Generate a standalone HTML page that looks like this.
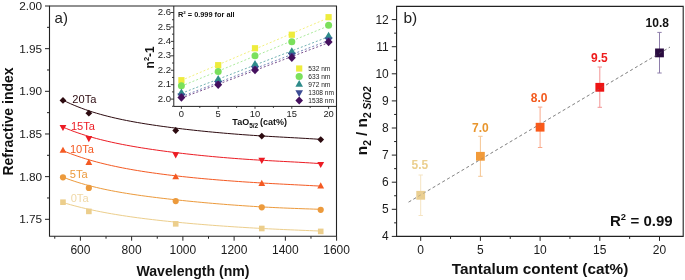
<!DOCTYPE html><html><head><meta charset="utf-8"><style>html,body{margin:0;padding:0;background:#fff;}svg{display:block;will-change:transform;}text{font-family:"Liberation Sans", sans-serif;}</style></head><body>
<svg width="685" height="280" viewBox="0 0 685 280">
<rect width="685" height="280" fill="#fff"/>
<path d="M62.98,100.15 L66.71,101.97 L70.45,103.69 L74.18,105.30 L77.92,106.82 L81.66,108.25 L85.39,109.61 L89.13,110.88 L92.86,112.09 L96.60,113.23 L100.33,114.30 L104.07,115.32 L107.80,116.29 L111.54,117.21 L115.27,118.08 L119.01,118.92 L122.74,119.71 L126.48,120.47 L130.21,121.19 L133.95,121.88 L137.68,122.55 L141.42,123.18 L145.16,123.80 L148.89,124.39 L152.63,124.96 L156.36,125.51 L160.10,126.05 L163.83,126.56 L167.57,127.06 L171.30,127.55 L175.04,128.02 L178.77,128.48 L182.51,128.93 L186.24,129.36 L189.98,129.79 L193.71,130.20 L197.45,130.60 L201.19,130.99 L204.92,131.37 L208.66,131.74 L212.39,132.09 L216.13,132.44 L219.86,132.78 L223.60,133.11 L227.33,133.43 L231.07,133.74 L234.80,134.04 L238.54,134.33 L242.27,134.61 L246.01,134.89 L249.74,135.15 L253.48,135.40 L257.22,135.65 L260.95,135.89 L264.69,136.12 L268.42,136.35 L272.16,136.56 L275.89,136.78 L279.63,136.99 L283.36,137.19 L287.10,137.40 L290.83,137.60 L294.57,137.80 L298.30,138.01 L302.04,138.22 L305.77,138.43 L309.51,138.66 L313.24,138.89 L316.98,139.14 L320.72,139.40" fill="none" stroke="#2d0b10" stroke-width="1"/>
<path d="M62.98,127.12 L66.71,128.68 L70.45,130.16 L74.18,131.57 L77.92,132.89 L81.66,134.15 L85.39,135.34 L89.13,136.47 L92.86,137.54 L96.60,138.56 L100.33,139.53 L104.07,140.45 L107.80,141.34 L111.54,142.18 L115.27,142.99 L119.01,143.76 L122.74,144.50 L126.48,145.21 L130.21,145.89 L133.95,146.55 L137.68,147.19 L141.42,147.80 L145.16,148.39 L148.89,148.97 L152.63,149.52 L156.36,150.06 L160.10,150.58 L163.83,151.09 L167.57,151.59 L171.30,152.07 L175.04,152.53 L178.77,152.99 L182.51,153.43 L186.24,153.86 L189.98,154.28 L193.71,154.68 L197.45,155.08 L201.19,155.46 L204.92,155.84 L208.66,156.20 L212.39,156.55 L216.13,156.89 L219.86,157.22 L223.60,157.54 L227.33,157.85 L231.07,158.15 L234.80,158.44 L238.54,158.72 L242.27,158.99 L246.01,159.25 L249.74,159.50 L253.48,159.74 L257.22,159.97 L260.95,160.20 L264.69,160.42 L268.42,160.63 L272.16,160.84 L275.89,161.04 L279.63,161.24 L283.36,161.44 L287.10,161.64 L290.83,161.83 L294.57,162.03 L298.30,162.23 L302.04,162.44 L305.77,162.66 L309.51,162.89 L313.24,163.13 L316.98,163.38 L320.72,163.65" fill="none" stroke="#ec1c24" stroke-width="1"/>
<path d="M62.98,150.67 L66.71,152.18 L70.45,153.63 L74.18,155.00 L77.92,156.30 L81.66,157.54 L85.39,158.73 L89.13,159.85 L92.86,160.92 L96.60,161.94 L100.33,162.92 L104.07,163.85 L107.80,164.73 L111.54,165.58 L115.27,166.39 L119.01,167.17 L122.74,167.91 L126.48,168.62 L130.21,169.30 L133.95,169.96 L137.68,170.59 L141.42,171.19 L145.16,171.77 L148.89,172.33 L152.63,172.87 L156.36,173.39 L160.10,173.90 L163.83,174.38 L167.57,174.85 L171.30,175.30 L175.04,175.74 L178.77,176.17 L182.51,176.58 L186.24,176.98 L189.98,177.37 L193.71,177.74 L197.45,178.11 L201.19,178.46 L204.92,178.81 L208.66,179.14 L212.39,179.46 L216.13,179.78 L219.86,180.09 L223.60,180.38 L227.33,180.67 L231.07,180.95 L234.80,181.23 L238.54,181.49 L242.27,181.75 L246.01,182.00 L249.74,182.24 L253.48,182.48 L257.22,182.71 L260.95,182.94 L264.69,183.16 L268.42,183.37 L272.16,183.58 L275.89,183.78 L279.63,183.98 L283.36,184.18 L287.10,184.37 L290.83,184.57 L294.57,184.76 L298.30,184.95 L302.04,185.14 L305.77,185.33 L309.51,185.52 L313.24,185.72 L316.98,185.92 L320.72,186.12" fill="none" stroke="#f45a23" stroke-width="1"/>
<path d="M62.98,177.15 L66.71,178.58 L70.45,179.93 L74.18,181.20 L77.92,182.40 L81.66,183.54 L85.39,184.61 L89.13,185.62 L92.86,186.58 L96.60,187.49 L100.33,188.36 L104.07,189.18 L107.80,189.96 L111.54,190.70 L115.27,191.41 L119.01,192.09 L122.74,192.73 L126.48,193.35 L130.21,193.95 L133.95,194.52 L137.68,195.07 L141.42,195.60 L145.16,196.12 L148.89,196.61 L152.63,197.10 L156.36,197.56 L160.10,198.02 L163.83,198.46 L167.57,198.89 L171.30,199.31 L175.04,199.72 L178.77,200.12 L182.51,200.51 L186.24,200.90 L189.98,201.27 L193.71,201.64 L197.45,201.99 L201.19,202.34 L204.92,202.69 L208.66,203.02 L212.39,203.35 L216.13,203.67 L219.86,203.98 L223.60,204.28 L227.33,204.58 L231.07,204.86 L234.80,205.14 L238.54,205.41 L242.27,205.67 L246.01,205.93 L249.74,206.17 L253.48,206.40 L257.22,206.63 L260.95,206.85 L264.69,207.06 L268.42,207.26 L272.16,207.45 L275.89,207.63 L279.63,207.80 L283.36,207.97 L287.10,208.13 L290.83,208.28 L294.57,208.42 L298.30,208.56 L302.04,208.70 L305.77,208.83 L309.51,208.95 L313.24,209.08 L316.98,209.20 L320.72,209.32" fill="none" stroke="#ec9a3c" stroke-width="1"/>
<path d="M62.98,202.50 L66.71,203.62 L70.45,204.69 L74.18,205.71 L77.92,206.68 L81.66,207.61 L85.39,208.51 L89.13,209.36 L92.86,210.17 L96.60,210.95 L100.33,211.70 L104.07,212.42 L107.80,213.11 L111.54,213.77 L115.27,214.40 L119.01,215.01 L122.74,215.60 L126.48,216.17 L130.21,216.71 L133.95,217.24 L137.68,217.75 L141.42,218.24 L145.16,218.72 L148.89,219.18 L152.63,219.62 L156.36,220.06 L160.10,220.48 L163.83,220.88 L167.57,221.28 L171.30,221.67 L175.04,222.04 L178.77,222.40 L182.51,222.76 L186.24,223.10 L189.98,223.44 L193.71,223.77 L197.45,224.09 L201.19,224.40 L204.92,224.70 L208.66,225.00 L212.39,225.29 L216.13,225.57 L219.86,225.84 L223.60,226.11 L227.33,226.37 L231.07,226.62 L234.80,226.87 L238.54,227.11 L242.27,227.34 L246.01,227.57 L249.74,227.79 L253.48,228.00 L257.22,228.21 L260.95,228.42 L264.69,228.61 L268.42,228.80 L272.16,228.99 L275.89,229.17 L279.63,229.35 L283.36,229.52 L287.10,229.69 L290.83,229.85 L294.57,230.01 L298.30,230.17 L302.04,230.32 L305.77,230.47 L309.51,230.62 L313.24,230.77 L316.98,230.92 L320.72,231.07" fill="none" stroke="#ecce8c" stroke-width="1"/>
<path d="M62.98,97.00L66.38,100.40L62.98,103.80L59.58,100.40Z" fill="#2d0b10"/>
<path d="M88.85,109.80L92.25,113.20L88.85,116.60L85.45,113.20Z" fill="#2d0b10"/>
<path d="M175.71,127.10L179.11,130.50L175.71,133.90L172.31,130.50Z" fill="#2d0b10"/>
<path d="M261.79,132.70L265.19,136.10L261.79,139.50L258.39,136.10Z" fill="#2d0b10"/>
<path d="M320.72,136.20L324.12,139.60L320.72,143.00L317.32,139.60Z" fill="#2d0b10"/>
<path d="M59.58,125.00L66.38,125.00L62.98,131.10Z" fill="#ec1c24"/>
<path d="M85.45,136.10L92.25,136.10L88.85,142.20Z" fill="#ec1c24"/>
<path d="M172.31,152.30L179.11,152.30L175.71,158.40Z" fill="#ec1c24"/>
<path d="M258.39,157.85L265.19,157.85L261.79,163.95Z" fill="#ec1c24"/>
<path d="M317.32,161.93L324.12,161.93L320.72,168.03Z" fill="#ec1c24"/>
<path d="M62.98,146.70L66.38,152.80L59.58,152.80Z" fill="#f45a23"/>
<path d="M88.85,158.85L92.25,164.95L85.45,164.95Z" fill="#f45a23"/>
<path d="M175.71,173.20L179.11,179.30L172.31,179.30Z" fill="#f45a23"/>
<path d="M261.79,179.85L265.19,185.95L258.39,185.95Z" fill="#f45a23"/>
<path d="M320.72,182.30L324.12,188.40L317.32,188.40Z" fill="#f45a23"/>
<circle cx="62.98" cy="177.30" r="3.10" fill="#ec9a3c"/>
<circle cx="88.85" cy="187.90" r="3.10" fill="#ec9a3c"/>
<circle cx="175.71" cy="201.10" r="3.10" fill="#ec9a3c"/>
<circle cx="261.79" cy="207.30" r="3.10" fill="#ec9a3c"/>
<circle cx="320.72" cy="209.80" r="3.10" fill="#ec9a3c"/>
<rect x="60.18" y="199.40" width="5.60" height="5.60" fill="#ecce8c"/>
<rect x="86.05" y="208.60" width="5.60" height="5.60" fill="#ecce8c"/>
<rect x="172.91" y="221.05" width="5.60" height="5.60" fill="#ecce8c"/>
<rect x="258.99" y="225.70" width="5.60" height="5.60" fill="#ecce8c"/>
<rect x="317.92" y="228.60" width="5.60" height="5.60" fill="#ecce8c"/>
<text x="72.3" y="102.9" font-size="11.1" fill="#2d0b10">20Ta</text>
<text x="70.9" y="130.2" font-size="11.1" fill="#ec1c24">15Ta</text>
<text x="69.9" y="152.9" font-size="11.1" fill="#f45a23">10Ta</text>
<text x="69.8" y="177.6" font-size="11.1" fill="#ec9a3c">5Ta</text>
<text x="70.7" y="202.1" font-size="11.1" fill="#f0d8a6">0Ta</text>
<path d="M45.0,6.00H49.5" stroke="#222" stroke-width="1"/>
<text x="42.1" y="9.90" font-size="11.8" text-anchor="end" fill="#1a1a1a">2.00</text>
<path d="M45.0,48.66H49.5" stroke="#222" stroke-width="1"/>
<text x="42.1" y="52.56" font-size="11.8" text-anchor="end" fill="#1a1a1a">1.95</text>
<path d="M45.0,91.32H49.5" stroke="#222" stroke-width="1"/>
<text x="42.1" y="95.22" font-size="11.8" text-anchor="end" fill="#1a1a1a">1.90</text>
<path d="M45.0,133.98H49.5" stroke="#222" stroke-width="1"/>
<text x="42.1" y="137.88" font-size="11.8" text-anchor="end" fill="#1a1a1a">1.85</text>
<path d="M45.0,176.64H49.5" stroke="#222" stroke-width="1"/>
<text x="42.1" y="180.54" font-size="11.8" text-anchor="end" fill="#1a1a1a">1.80</text>
<path d="M45.0,219.30H49.5" stroke="#222" stroke-width="1"/>
<text x="42.1" y="223.20" font-size="11.8" text-anchor="end" fill="#1a1a1a">1.75</text>
<path d="M47.0,27.33H49.5" stroke="#222" stroke-width="1"/>
<path d="M47.0,69.99H49.5" stroke="#222" stroke-width="1"/>
<path d="M47.0,112.65H49.5" stroke="#222" stroke-width="1"/>
<path d="M47.0,155.31H49.5" stroke="#222" stroke-width="1"/>
<path d="M47.0,197.97H49.5" stroke="#222" stroke-width="1"/>
<path d="M80.40,236.3V240.70000000000002" stroke="#222" stroke-width="1"/>
<text x="80.40" y="254.0" font-size="12" text-anchor="middle" fill="#1a1a1a">600</text>
<path d="M131.64,236.3V240.70000000000002" stroke="#222" stroke-width="1"/>
<text x="131.64" y="254.0" font-size="12" text-anchor="middle" fill="#1a1a1a">800</text>
<path d="M182.88,236.3V240.70000000000002" stroke="#222" stroke-width="1"/>
<text x="182.88" y="254.0" font-size="12" text-anchor="middle" fill="#1a1a1a">1000</text>
<path d="M234.12,236.3V240.70000000000002" stroke="#222" stroke-width="1"/>
<text x="234.12" y="254.0" font-size="12" text-anchor="middle" fill="#1a1a1a">1200</text>
<path d="M285.36,236.3V240.70000000000002" stroke="#222" stroke-width="1"/>
<text x="285.36" y="254.0" font-size="12" text-anchor="middle" fill="#1a1a1a">1400</text>
<path d="M336.60,236.3V240.70000000000002" stroke="#222" stroke-width="1"/>
<text x="336.60" y="254.0" font-size="12" text-anchor="middle" fill="#1a1a1a">1600</text>
<path d="M54.78,236.3V238.70000000000002" stroke="#222" stroke-width="1"/>
<path d="M106.02,236.3V238.70000000000002" stroke="#222" stroke-width="1"/>
<path d="M157.26,236.3V238.70000000000002" stroke="#222" stroke-width="1"/>
<path d="M208.50,236.3V238.70000000000002" stroke="#222" stroke-width="1"/>
<path d="M259.74,236.3V238.70000000000002" stroke="#222" stroke-width="1"/>
<path d="M310.98,236.3V238.70000000000002" stroke="#222" stroke-width="1"/>
<text x="193" y="275.6" font-size="14.1" font-weight="bold" text-anchor="middle" fill="#111">Wavelength (nm)</text>
<text transform="translate(12.9,121.5) rotate(-90)" font-size="14" font-weight="bold" text-anchor="middle" fill="#111">Refractive index</text>
<text x="54.6" y="22.7" font-size="15" fill="#222">a)</text>
<rect x="173.8" y="6.0" width="162.7" height="100.4" fill="#fff"/>
<path d="M181.40,80.40L328.60,17.81" stroke="#f0ee70" stroke-width="0.9" stroke-dasharray="2,2" fill="none"/>
<path d="M181.40,86.14L328.60,25.88" stroke="#a0e890" stroke-width="0.9" stroke-dasharray="2,2" fill="none"/>
<path d="M181.40,93.31L328.60,36.73" stroke="#60a8a8" stroke-width="0.9" stroke-dasharray="2,2" fill="none"/>
<path d="M181.40,96.55L328.60,40.46" stroke="#6a78b0" stroke-width="0.9" stroke-dasharray="2,2" fill="none"/>
<path d="M181.40,98.03L328.60,42.73" stroke="#6a3a80" stroke-width="0.9" stroke-dasharray="2,2" fill="none"/>
<rect x="178.30" y="77.10" width="6.20" height="6.20" fill="#eeec3c"/>
<rect x="215.10" y="62.07" width="6.20" height="6.20" fill="#eeec3c"/>
<rect x="251.90" y="45.15" width="6.20" height="6.20" fill="#eeec3c"/>
<rect x="288.70" y="31.62" width="6.20" height="6.20" fill="#eeec3c"/>
<rect x="325.50" y="14.10" width="6.20" height="6.20" fill="#eeec3c"/>
<circle cx="181.40" cy="85.69" r="3.50" fill="#7be05c"/>
<circle cx="218.20" cy="71.60" r="3.50" fill="#7be05c"/>
<circle cx="255.00" cy="55.75" r="3.50" fill="#7be05c"/>
<circle cx="291.80" cy="41.66" r="3.50" fill="#7be05c"/>
<circle cx="328.60" cy="25.34" r="3.50" fill="#7be05c"/>
<path d="M181.40,88.54L185.40,95.34L177.40,95.34Z" fill="#2e8b8a"/>
<path d="M218.20,75.01L222.20,81.81L214.20,81.81Z" fill="#2e8b8a"/>
<path d="M255.00,60.00L259.00,66.80L251.00,66.80Z" fill="#2e8b8a"/>
<path d="M291.80,47.18L295.80,53.98L287.80,53.98Z" fill="#2e8b8a"/>
<path d="M328.60,31.72L332.60,38.52L324.60,38.52Z" fill="#2e8b8a"/>
<path d="M177.40,93.54L185.40,93.54L181.40,100.34Z" fill="#3c4d95"/>
<path d="M214.20,80.98L222.20,80.98L218.20,87.78Z" fill="#3c4d95"/>
<path d="M251.00,66.31L259.00,66.31L255.00,73.11Z" fill="#3c4d95"/>
<path d="M287.80,52.87L295.80,52.87L291.80,59.67Z" fill="#3c4d95"/>
<path d="M324.60,37.49L332.60,37.49L328.60,44.29Z" fill="#3c4d95"/>
<path d="M181.40,93.21L185.40,97.51L181.40,101.81L177.40,97.51Z" fill="#45105e"/>
<path d="M218.20,80.44L222.20,84.74L218.20,89.04L214.20,84.74Z" fill="#45105e"/>
<path d="M255.00,65.76L259.00,70.06L255.00,74.36L251.00,70.06Z" fill="#45105e"/>
<path d="M291.80,53.34L295.80,57.64L291.80,61.94L287.80,57.64Z" fill="#45105e"/>
<path d="M328.60,37.64L332.60,41.94L328.60,46.24L324.60,41.94Z" fill="#45105e"/>
<rect x="296.10" y="65.40" width="6.20" height="6.20" fill="#eeec3c"/>
<text x="308.3" y="70.90" font-size="6.6" fill="#222">532 nm</text>
<circle cx="299.20" cy="76.50" r="3.60" fill="#7be05c"/>
<text x="308.3" y="78.90" font-size="6.6" fill="#222">633 nm</text>
<path d="M299.20,79.97L303.00,86.77L295.40,86.77Z" fill="#2e8b8a"/>
<text x="308.3" y="86.90" font-size="6.6" fill="#222">972 nm</text>
<path d="M295.40,90.23L303.00,90.23L299.20,97.03Z" fill="#3c4d95"/>
<text x="308.3" y="94.90" font-size="6.6" fill="#222">1308 nm</text>
<path d="M299.20,96.50L303.00,100.50L299.20,104.50L295.40,100.50Z" fill="#45105e"/>
<text x="308.3" y="102.90" font-size="6.6" fill="#222">1538 nm</text>
<text x="178" y="17.45" font-size="7.35" font-weight="bold" fill="#111">R<tspan font-size="4.4" dy="-3">2</tspan><tspan dy="3"> = 0.999 for all</tspan></text>
<path d="M173.8,6.0V106.4H336.5" fill="none" stroke="#222" stroke-width="1"/>
<path d="M170.8,99.10H173.8" stroke="#222" stroke-width="0.9"/>
<text x="171.0" y="101.70" font-size="9.6" text-anchor="end" fill="#222">2.0</text>
<path d="M170.8,84.67H173.8" stroke="#222" stroke-width="0.9"/>
<text x="171.0" y="87.27" font-size="9.6" text-anchor="end" fill="#222">2.1</text>
<path d="M170.8,70.24H173.8" stroke="#222" stroke-width="0.9"/>
<text x="171.0" y="72.84" font-size="9.6" text-anchor="end" fill="#222">2.2</text>
<path d="M170.8,55.81H173.8" stroke="#222" stroke-width="0.9"/>
<text x="171.0" y="58.41" font-size="9.6" text-anchor="end" fill="#222">2.3</text>
<path d="M170.8,41.38H173.8" stroke="#222" stroke-width="0.9"/>
<text x="171.0" y="43.98" font-size="9.6" text-anchor="end" fill="#222">2.4</text>
<path d="M170.8,26.95H173.8" stroke="#222" stroke-width="0.9"/>
<text x="171.0" y="29.55" font-size="9.6" text-anchor="end" fill="#222">2.5</text>
<path d="M170.8,12.52H173.8" stroke="#222" stroke-width="0.9"/>
<text x="171.0" y="15.12" font-size="9.6" text-anchor="end" fill="#222">2.6</text>
<path d="M172.0,106.31H173.8" stroke="#222" stroke-width="0.9"/>
<path d="M172.0,91.89H173.8" stroke="#222" stroke-width="0.9"/>
<path d="M172.0,77.46H173.8" stroke="#222" stroke-width="0.9"/>
<path d="M172.0,63.02H173.8" stroke="#222" stroke-width="0.9"/>
<path d="M172.0,48.59H173.8" stroke="#222" stroke-width="0.9"/>
<path d="M172.0,34.16H173.8" stroke="#222" stroke-width="0.9"/>
<path d="M172.0,19.74H173.8" stroke="#222" stroke-width="0.9"/>
<path d="M181.40,106.4V108.80000000000001" stroke="#222" stroke-width="0.9"/>
<text x="181.40" y="116.9" font-size="9.4" text-anchor="middle" fill="#222">0</text>
<path d="M218.20,106.4V108.80000000000001" stroke="#222" stroke-width="0.9"/>
<text x="218.20" y="116.9" font-size="9.4" text-anchor="middle" fill="#222">5</text>
<path d="M255.00,106.4V108.80000000000001" stroke="#222" stroke-width="0.9"/>
<text x="255.00" y="116.9" font-size="9.4" text-anchor="middle" fill="#222">10</text>
<path d="M291.80,106.4V108.80000000000001" stroke="#222" stroke-width="0.9"/>
<text x="291.80" y="116.9" font-size="9.4" text-anchor="middle" fill="#222">15</text>
<path d="M328.60,106.4V108.80000000000001" stroke="#222" stroke-width="0.9"/>
<text x="328.60" y="116.9" font-size="9.4" text-anchor="middle" fill="#222">20</text>
<path d="M199.80,106.4V107.9" stroke="#222" stroke-width="0.9"/>
<path d="M236.60,106.4V107.9" stroke="#222" stroke-width="0.9"/>
<path d="M273.40,106.4V107.9" stroke="#222" stroke-width="0.9"/>
<path d="M310.20,106.4V107.9" stroke="#222" stroke-width="0.9"/>
<text x="232.3" y="125.4" font-size="9" font-weight="bold" fill="#111">TaO<tspan font-size="6.5" dy="2.6">5/2</tspan><tspan dy="-2.6" dx="-0.6"> (cat%)</tspan></text>
<text transform="translate(154,57.3) rotate(-90)" font-size="12" font-weight="bold" text-anchor="middle" fill="#111">n<tspan font-size="7.5" dy="-4.8">2</tspan><tspan dy="4.8">-1</tspan></text>
<path d="M49.5,6.0H336.5V236.3H49.5Z" fill="none" stroke="#222" stroke-width="1.1"/>
<path d="M408.6,202.1L670,47.1" stroke="#858585" stroke-width="0.85" stroke-dasharray="3,2.6" fill="none"/>
<path d="M420.70,175.0V215.5M418.50,175.0H422.90M418.50,215.5H422.90" stroke="#f5e4c2" stroke-width="1" fill="none"/>
<rect x="416.30" y="190.90" width="8.8" height="8.8" fill="#eacf92"/>
<text x="419.80" y="168.7" font-size="12" font-weight="bold" text-anchor="middle" fill="#ebcf8f">5.5</text>
<path d="M480.40,136.3V176.3M478.20,136.3H482.60M478.20,176.3H482.60" stroke="#f5c592" stroke-width="1" fill="none"/>
<rect x="476.00" y="151.90" width="8.8" height="8.8" fill="#f29b3a"/>
<text x="480.40" y="131.5" font-size="12" font-weight="bold" text-anchor="middle" fill="#e8962e">7.0</text>
<path d="M540.10,107.1V147.5M537.90,107.1H542.30M537.90,147.5H542.30" stroke="#f9a88a" stroke-width="1" fill="none"/>
<rect x="535.70" y="122.80" width="8.8" height="8.8" fill="#fa5a1a"/>
<text x="539.10" y="101.5" font-size="12" font-weight="bold" text-anchor="middle" fill="#f25a1e">8.0</text>
<path d="M599.80,67.0V107.3M597.60,67.0H602.00M597.60,107.3H602.00" stroke="#f29494" stroke-width="1" fill="none"/>
<rect x="595.40" y="82.90" width="8.8" height="8.8" fill="#ee1414"/>
<text x="599.30" y="61.5" font-size="12" font-weight="bold" text-anchor="middle" fill="#ee1c1c">9.5</text>
<path d="M659.50,32.4V73.0M657.30,32.4H661.70M657.30,73.0H661.70" stroke="#8e7eab" stroke-width="1" fill="none"/>
<rect x="655.10" y="48.50" width="8.8" height="8.8" fill="#2a0c40"/>
<text x="657.30" y="26.6" font-size="12" font-weight="bold" text-anchor="middle" fill="#111111">10.8</text>
<path d="M408.6,202.1L670,47.1" stroke="#7a7a7a" stroke-width="0.85" stroke-dasharray="3,2.6" fill="none" opacity="0.45"/>
<path d="M396.6,6.4H683.2V236.4H396.6Z" fill="none" stroke="#222" stroke-width="1.1"/>
<path d="M391.8,236.40H396.6" stroke="#222" stroke-width="1"/>
<text x="388.8" y="240.40" font-size="12" text-anchor="end" fill="#1a1a1a">4</text>
<path d="M391.8,209.30H396.6" stroke="#222" stroke-width="1"/>
<text x="388.8" y="213.30" font-size="12" text-anchor="end" fill="#1a1a1a">5</text>
<path d="M391.8,182.20H396.6" stroke="#222" stroke-width="1"/>
<text x="388.8" y="186.20" font-size="12" text-anchor="end" fill="#1a1a1a">6</text>
<path d="M391.8,155.10H396.6" stroke="#222" stroke-width="1"/>
<text x="388.8" y="159.10" font-size="12" text-anchor="end" fill="#1a1a1a">7</text>
<path d="M391.8,128.00H396.6" stroke="#222" stroke-width="1"/>
<text x="388.8" y="132.00" font-size="12" text-anchor="end" fill="#1a1a1a">8</text>
<path d="M391.8,100.90H396.6" stroke="#222" stroke-width="1"/>
<text x="388.8" y="104.90" font-size="12" text-anchor="end" fill="#1a1a1a">9</text>
<path d="M391.8,73.80H396.6" stroke="#222" stroke-width="1"/>
<text x="388.8" y="77.80" font-size="12" text-anchor="end" fill="#1a1a1a">10</text>
<path d="M391.8,46.70H396.6" stroke="#222" stroke-width="1"/>
<text x="388.8" y="50.70" font-size="12" text-anchor="end" fill="#1a1a1a">11</text>
<path d="M391.8,19.60H396.6" stroke="#222" stroke-width="1"/>
<text x="388.8" y="23.60" font-size="12" text-anchor="end" fill="#1a1a1a">12</text>
<path d="M394.1,222.85H396.6" stroke="#222" stroke-width="1"/>
<path d="M394.1,195.75H396.6" stroke="#222" stroke-width="1"/>
<path d="M394.1,168.65H396.6" stroke="#222" stroke-width="1"/>
<path d="M394.1,141.55H396.6" stroke="#222" stroke-width="1"/>
<path d="M394.1,114.45H396.6" stroke="#222" stroke-width="1"/>
<path d="M394.1,87.35H396.6" stroke="#222" stroke-width="1"/>
<path d="M394.1,60.25H396.6" stroke="#222" stroke-width="1"/>
<path d="M394.1,33.15H396.6" stroke="#222" stroke-width="1"/>
<path d="M420.70,236.4V240.9" stroke="#222" stroke-width="1"/>
<text x="420.70" y="254.0" font-size="12" text-anchor="middle" fill="#1a1a1a">0</text>
<path d="M480.40,236.4V240.9" stroke="#222" stroke-width="1"/>
<text x="480.40" y="254.0" font-size="12" text-anchor="middle" fill="#1a1a1a">5</text>
<path d="M540.10,236.4V240.9" stroke="#222" stroke-width="1"/>
<text x="540.10" y="254.0" font-size="12" text-anchor="middle" fill="#1a1a1a">10</text>
<path d="M599.80,236.4V240.9" stroke="#222" stroke-width="1"/>
<text x="599.80" y="254.0" font-size="12" text-anchor="middle" fill="#1a1a1a">15</text>
<path d="M659.50,236.4V240.9" stroke="#222" stroke-width="1"/>
<text x="659.50" y="254.0" font-size="12" text-anchor="middle" fill="#1a1a1a">20</text>
<path d="M450.55,236.4V238.9" stroke="#222" stroke-width="1"/>
<path d="M510.25,236.4V238.9" stroke="#222" stroke-width="1"/>
<path d="M569.95,236.4V238.9" stroke="#222" stroke-width="1"/>
<path d="M629.65,236.4V238.9" stroke="#222" stroke-width="1"/>
<text x="540" y="273.8" font-size="15.3" font-weight="bold" text-anchor="middle" fill="#111">Tantalum content (cat%)</text>
<text x="403.4" y="23.2" font-size="15.5" fill="#222">b)</text>
<text x="609.9" y="225.5" font-size="15" font-weight="bold" fill="#111">R<tspan font-size="9.4" dy="-5.6">2</tspan><tspan dy="5.6" dx="0.4"> = 0.99</tspan></text>
<text transform="translate(366.7,120.8) rotate(-90)" font-size="15.3" font-weight="bold" text-anchor="middle" fill="#111">n<tspan font-size="10.2" dy="4.2">2</tspan><tspan dy="-4.2"> / n</tspan><tspan font-size="10.2" dy="4.2">2 <tspan font-style="italic">SiO2</tspan></tspan></text>
</svg></body></html>
